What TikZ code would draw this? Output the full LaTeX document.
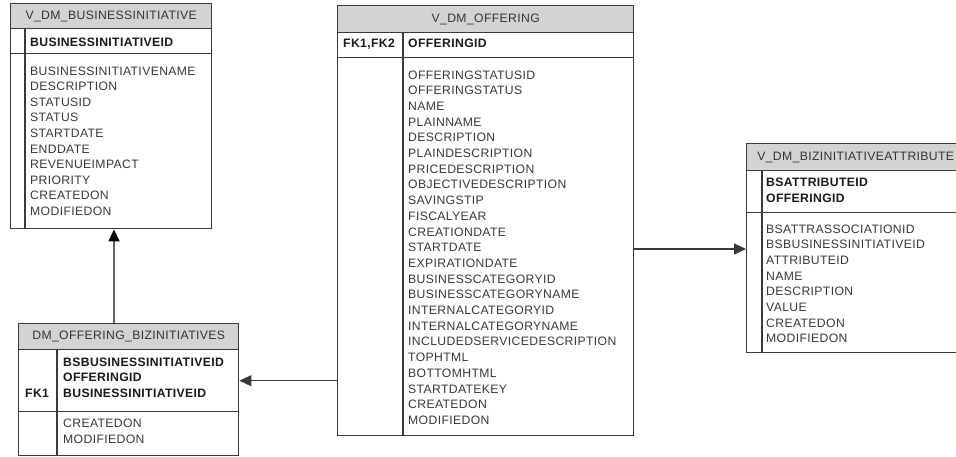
\documentclass[tikz,border=0pt]{standalone}
\usepackage{fontspec}
\setmainfont{Liberation Sans}[LetterSpace=3]
\usetikzlibrary{positioning, arrows.meta}
\definecolor{edgegray}{HTML}{3A3A3A}
\definecolor{headgray}{HTML}{D3D3D3}
\definecolor{fieldgray}{HTML}{383838}

\begin{document}
\begin{tikzpicture}[x=1pt, y=-1pt, >={Triangle[length=12pt, width=11pt]},
  tbl/.style={draw=edgegray, line width=1.4pt, inner sep=0pt, anchor=north west},
  hdr/.style={tbl, fill=headgray, text=black!80, font=\fontsize{12.2}{14}\selectfont},
  fld/.style={anchor=base west, inner sep=0pt, text=fieldgray, font=\fontsize{12.2}{14}\selectfont},
  pk/.style={fld, text=black!90, font=\fontsize{12.2}{14}\selectfont\bfseries},
  rel/.style={->, draw=edgegray, line width=1.2pt}]
  \useasboundingbox (0,0) rectangle (956,456);
  \clip (0,0) rectangle (956,456);

  % V_DM_BUSINESSINITIATIVE
  \node[hdr, minimum width=201pt, minimum height=25pt] (bi-h) at (10,3) {V\_DM\_BUSINESSINITIATIVE};
  \node[tbl, minimum width=201pt, minimum height=25pt] (bi-k) at (10,28) {};
  \node[tbl, minimum width=201pt, minimum height=175pt] (bi-b) at (10,53) {};
  \draw[edgegray, line width=1.4pt] ([xshift=15]bi-k.north west) -- ([xshift=15]bi-b.south west);
  \node[pk] (bi-id) at (30,46) {BUSINESSINITIATIVEID};
  \foreach \f [count=\i from 0] in {BUSINESSINITIATIVENAME, DESCRIPTION, STATUSID, STATUS,
      STARTDATE, ENDDATE, REVENUEIMPACT, PRIORITY, CREATEDON, MODIFIEDON}
    \node[fld] (bi-f\i) at (30, 75+15.6*\i) {\f};

  % DM_OFFERING_BIZINITIATIVES
  \node[hdr, minimum width=220pt, minimum height=26pt] (bz-h) at (18,323) {DM\_OFFERING\_BIZINITIATIVES};
  \node[tbl, minimum width=220pt, minimum height=62pt] (bz-k) at (18,349) {};
  \node[tbl, minimum width=220pt, minimum height=44pt] (bz-b) at (18,411) {};
  \draw[edgegray, line width=1.4pt] ([xshift=39]bz-k.north west) -- ([xshift=39]bz-b.south west);
  \node[pk] (bz-k1) at (63,366) {BSBUSINESSINITIATIVEID};
  \node[pk] (bz-k2) at (63,381.5) {OFFERINGID};
  \node[pk] (bz-k3) at (63,397) {BUSINESSINITIATIVEID};
  \node[pk] (bz-fk) at (25,397) {FK1};
  \node[fld] (bz-f0) at (63,427) {CREATEDON};
  \node[fld] (bz-f1) at (63,443) {MODIFIEDON};

  % V_DM_OFFERING
  \node[hdr, minimum width=296pt, minimum height=27pt] (of-h) at (337,5) {V\_DM\_OFFERING};
  \node[tbl, minimum width=296pt, minimum height=25pt] (of-k) at (337,32) {};
  \node[tbl, minimum width=296pt, minimum height=378pt] (of-b) at (337,57) {};
  \draw[edgegray, line width=1.4pt] ([xshift=66]of-k.north west) -- ([xshift=66]of-b.south west);
  \node[pk] (of-fk) at (343,47) {FK1,FK2};
  \node[pk] (of-id) at (408,47) {OFFERINGID};
  \foreach \f [count=\i from 0] in {OFFERINGSTATUSID, OFFERINGSTATUS, NAME, PLAINNAME,
      DESCRIPTION, PLAINDESCRIPTION, PRICEDESCRIPTION, OBJECTIVEDESCRIPTION, SAVINGSTIP,
      FISCALYEAR, CREATIONDATE, STARTDATE, EXPIRATIONDATE, BUSINESSCATEGORYID,
      BUSINESSCATEGORYNAME, INTERNALCATEGORYID, INTERNALCATEGORYNAME,
      INCLUDEDSERVICEDESCRIPTION, TOPHTML, BOTTOMHTML, STARTDATEKEY, CREATEDON, MODIFIEDON}
    \node[fld] (of-f\i) at (408, 79+15.7*\i) {\f};

  % V_DM_BIZINITIATIVEATTRIBUTE
  \node[hdr, minimum width=218pt, minimum height=27pt] (ba-h) at (746,143) {V\_DM\_BIZINITIATIVEATTRIBUTE};
  \node[tbl, minimum width=218pt, minimum height=42pt] (ba-k) at (746,170) {};
  \node[tbl, minimum width=218pt, minimum height=140pt] (ba-b) at (746,212) {};
  \draw[edgegray, line width=1.4pt] ([xshift=16]ba-k.north west) -- ([xshift=16]ba-b.south west);
  \node[pk] (ba-k1) at (766,186) {BSATTRIBUTEID};
  \node[pk] (ba-k2) at (766,202) {OFFERINGID};
  \foreach \f [count=\i from 0] in {BSATTRASSOCIATIONID, BSBUSINESSINITIATIVEID, ATTRIBUTEID,
      NAME, DESCRIPTION, VALUE, CREATEDON, MODIFIEDON}
    \node[fld] (ba-f\i) at (766, 233+15.7*\i) {\f};

  % relationships
  \draw[rel, draw=black!60, line width=1.6pt, -{Triangle[length=12pt, width=11pt, color=black]}]
    ([xshift=96]bz-h.north west) -- ([xshift=104]bi-b.south west);
  \draw[rel] (of-b.west |- bz-k.east) -- (bz-k.east);
  \draw[rel] ([yshift=-192]of-b.north east) -- ([yshift=-37]ba-b.north west);
\end{tikzpicture}
\end{document}
